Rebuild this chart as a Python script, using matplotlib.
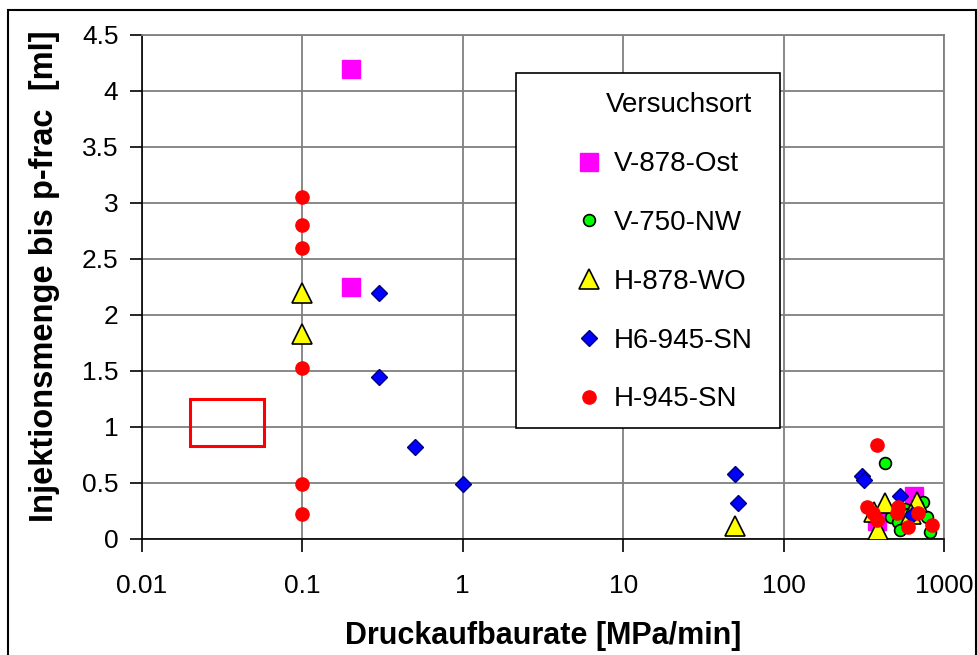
import matplotlib
matplotlib.use('Agg')
import matplotlib.pyplot as plt
from matplotlib.patches import Rectangle
from matplotlib.ticker import FixedLocator, FuncFormatter, NullLocator

plt.rcParams['font.family'] = ['Liberation Sans', 'DejaVu Sans']

# data (x = Druckaufbaurate, y = Injektionsmenge)
ost_x = [0.2, 0.2, 650, 380]
ost_y = [4.2, 2.25, 0.38, 0.16]

nw_x = [430, 470, 520, 530, 570, 740, 780, 820, 600, 680, 500]
nw_y = [0.68, 0.2, 0.15, 0.08, 0.27, 0.33, 0.2, 0.06, 0.22, 0.3, 0.25]

wo_x = [0.1, 0.1, 50, 388, 365, 430, 680, 620]
wo_y = [2.2, 1.83, 0.12, 0.08, 0.24, 0.32, 0.33, 0.22]

h6_x = [0.3, 0.3, 0.5, 1, 50, 52, 308, 318, 532, 631]
h6_y = [2.2, 1.45, 0.82, 0.49, 0.58, 0.32, 0.56, 0.53, 0.38, 0.21]

sn_x = [0.1, 0.1, 0.1, 0.1, 0.1, 0.1, 380, 331, 360, 382, 517, 510, 598, 690, 841]
sn_y = [3.05, 2.8, 2.6, 1.53, 0.49, 0.22, 0.84, 0.29, 0.23, 0.17, 0.29, 0.23, 0.11, 0.23, 0.125]

x_ticks = [0.01, 0.1, 1, 10, 100, 1000]
x_labels = ['0.01', '0.1', '1', '10', '100', '1000']
y_ticks = [0, 0.5, 1, 1.5, 2, 2.5, 3, 3.5, 4, 4.5]

fig = plt.figure(figsize=(9.78, 6.55), dpi=100)
ax = fig.add_axes([142/978, 1-539/655, 802/978, 504/655])

ax.plot(ost_x, ost_y, 's', color='#ff00ff', ms=13, mec='#ff00ff', label='V-878-Ost', zorder=3)
ax.plot(nw_x, nw_y, 'o', color='#00ff00', ms=8.5, mec='black', mew=1.2, label='V-750-NW', zorder=3)
ax.plot(wo_x, wo_y, '^', color='#ffff00', ms=14, mec='black', mew=1.2, label='H-878-WO', zorder=3)
ax.plot(h6_x, h6_y, 'D', color='#0000ff', ms=8, mec='#000080', mew=1, label='H6-945-SN', zorder=3)
ax.plot(sn_x, sn_y, 'o', color='#ff0000', ms=9.5, mec='#ff0000', label='H-945-SN', zorder=3)

# red box
ax.add_patch(Rectangle((0.02, 0.83), 0.0377, 0.42, fill=False, ec='#ff0000', lw=2.2, zorder=4))

ax.set_xscale('log')
ax.set_xlim(0.01, 1000)
ax.set_ylim(0, 4.5)
ax.xaxis.set_major_locator(FixedLocator(x_ticks))
ax.xaxis.set_minor_locator(NullLocator())
ax.xaxis.set_major_formatter(FuncFormatter(lambda v, p: x_labels[x_ticks.index(v)] if v in x_ticks else ''))
ax.yaxis.set_major_locator(FixedLocator(y_ticks))
ax.yaxis.set_major_formatter(FuncFormatter(lambda v, p: '%g' % v))

ax.grid(True, color='#808080', lw=1.3)
ax.set_axisbelow(True)
for s in ['top', 'right']:
    ax.spines[s].set_color('#808080')
    ax.spines[s].set_linewidth(1.3)
for s in ['left', 'bottom']:
    ax.spines[s].set_color('black')
    ax.spines[s].set_linewidth(1.2)
ax.tick_params(direction='out', length=9, width=1.2, labelsize=19, pad=8)
ax.tick_params(axis='x', pad=16)

ax.set_xlabel('Druckaufbaurate [MPa/min]', fontsize=22, fontweight='bold', labelpad=17)
ax.set_ylabel('Injektionsmenge bis p-frac  [ml]', fontsize=23.5, fontweight='bold', labelpad=12)
ax.yaxis.set_label_coords(-0.102, 0.521)

# legend frame drawn separately, legend entries without frame
ax.add_patch(Rectangle((0.4663, 0.2202), 0.3292, 0.7044, transform=ax.transAxes,
                       fc='white', ec='black', lw=1.2, zorder=5))
leg = ax.legend(loc='upper right', bbox_to_anchor=(0.7855, 0.9246),
                title='Versuchsort', fontsize=20, title_fontsize=20, frameon=False,
                labelspacing=1.18, borderpad=0.7, handletextpad=0.4, handlelength=1.0,
                alignment='right', borderaxespad=0)
leg.set_zorder(6)

# outer frame
fig.patches.append(Rectangle((8/978, -0.05), 968/978, 1.05 - 10/655, transform=fig.transFigure,
                             fill=False, ec='black', lw=1.5))

fig.savefig('out.png', dpi=100)
